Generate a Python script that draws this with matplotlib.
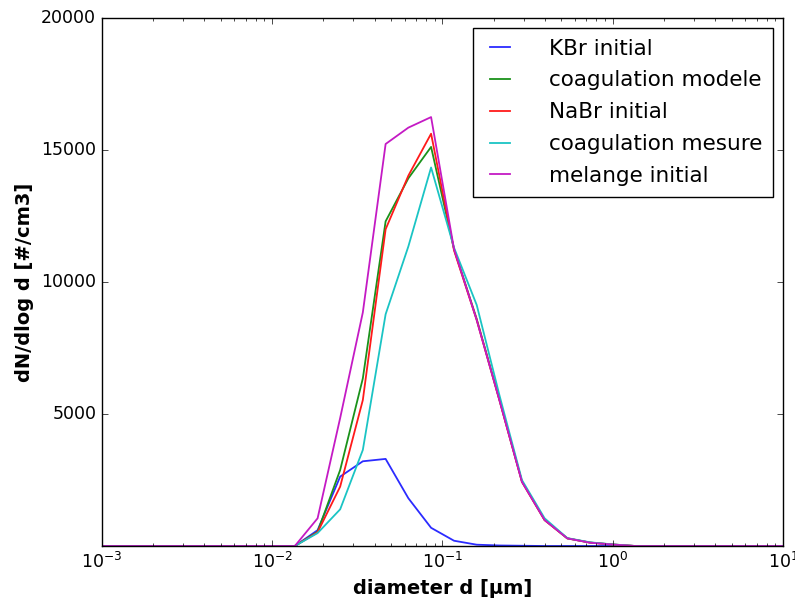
import matplotlib
matplotlib.use('Agg')
import matplotlib.pyplot as plt

plt.style.use('classic')
plt.rcParams['font.family'] = ['DejaVu Sans']

# particle diameter bins [um]
diam = [0.001, 0.0136, 0.0185, 0.0251, 0.0341, 0.0464, 0.0631, 0.0858, 0.117,
        0.159, 0.216, 0.293, 0.398, 0.541, 0.736, 1.0, 1.36, 10.0]

kbr_initial = [0, 0, 600, 2630, 3210, 3300, 1810, 690, 200,
               50, 20, 10, 0, 0, 0, 0, 0, 0]
coag_modele = [0, 0, 540, 2880, 6350, 12300, 13930, 15120, 11250,
               8600, 5550, 2450, 990, 290, 130, 60, 0, 0]
nabr_initial = [0, 0, 520, 2250, 5530, 12000, 14030, 15620, 11200,
                8560, 5530, 2430, 980, 290, 130, 55, 0, 0]
coag_mesure = [0, 0, 490, 1390, 3640, 8780, 11350, 14340, 11300,
               9130, 5720, 2500, 1050, 300, 140, 60, 0, 0]
melange_initial = [0, 0, 1050, 4850, 8850, 15230, 15850, 16250, 11250,
                   8560, 5530, 2430, 985, 290, 125, 55, 0, 0]

series = [
    ('KBr initial', kbr_initial, '#2b2bff'),
    ('coagulation modele', coag_modele, '#1a921a'),
    ('NaBr initial', nabr_initial, '#ff1a1a'),
    ('coagulation mesure', coag_mesure, '#1ac4c4'),
    ('melange initial', melange_initial, '#c41ac4'),
]

fig = plt.figure(figsize=(7.95, 6.03), dpi=100, facecolor='white')
ax = fig.add_axes([0.128, 0.0945, 0.857, 0.8755])

for label, vals, col in series:
    ax.plot(diam, vals, color=col, lw=1.3, label=label)

ax.set_xscale('log')
ax.set_xlim(1e-3, 1e1)
ax.set_ylim(0, 20000)
ax.set_yticks([5000, 10000, 15000, 20000])
ax.tick_params(labelsize=12.5)
ax.set_xlabel('diameter d [µm]', fontsize=14, fontweight='bold')
ax.set_ylabel('dN/dlog d [#/cm3]', fontsize=14, fontweight='bold')

ax.legend(loc='upper right', fontsize=15.5, handlelength=1.55, handletextpad=1.5,
          borderpad=0.5, labelspacing=0.55, borderaxespad=0.45, fancybox=False)

fig.savefig('out.png', dpi=100, facecolor='white')
